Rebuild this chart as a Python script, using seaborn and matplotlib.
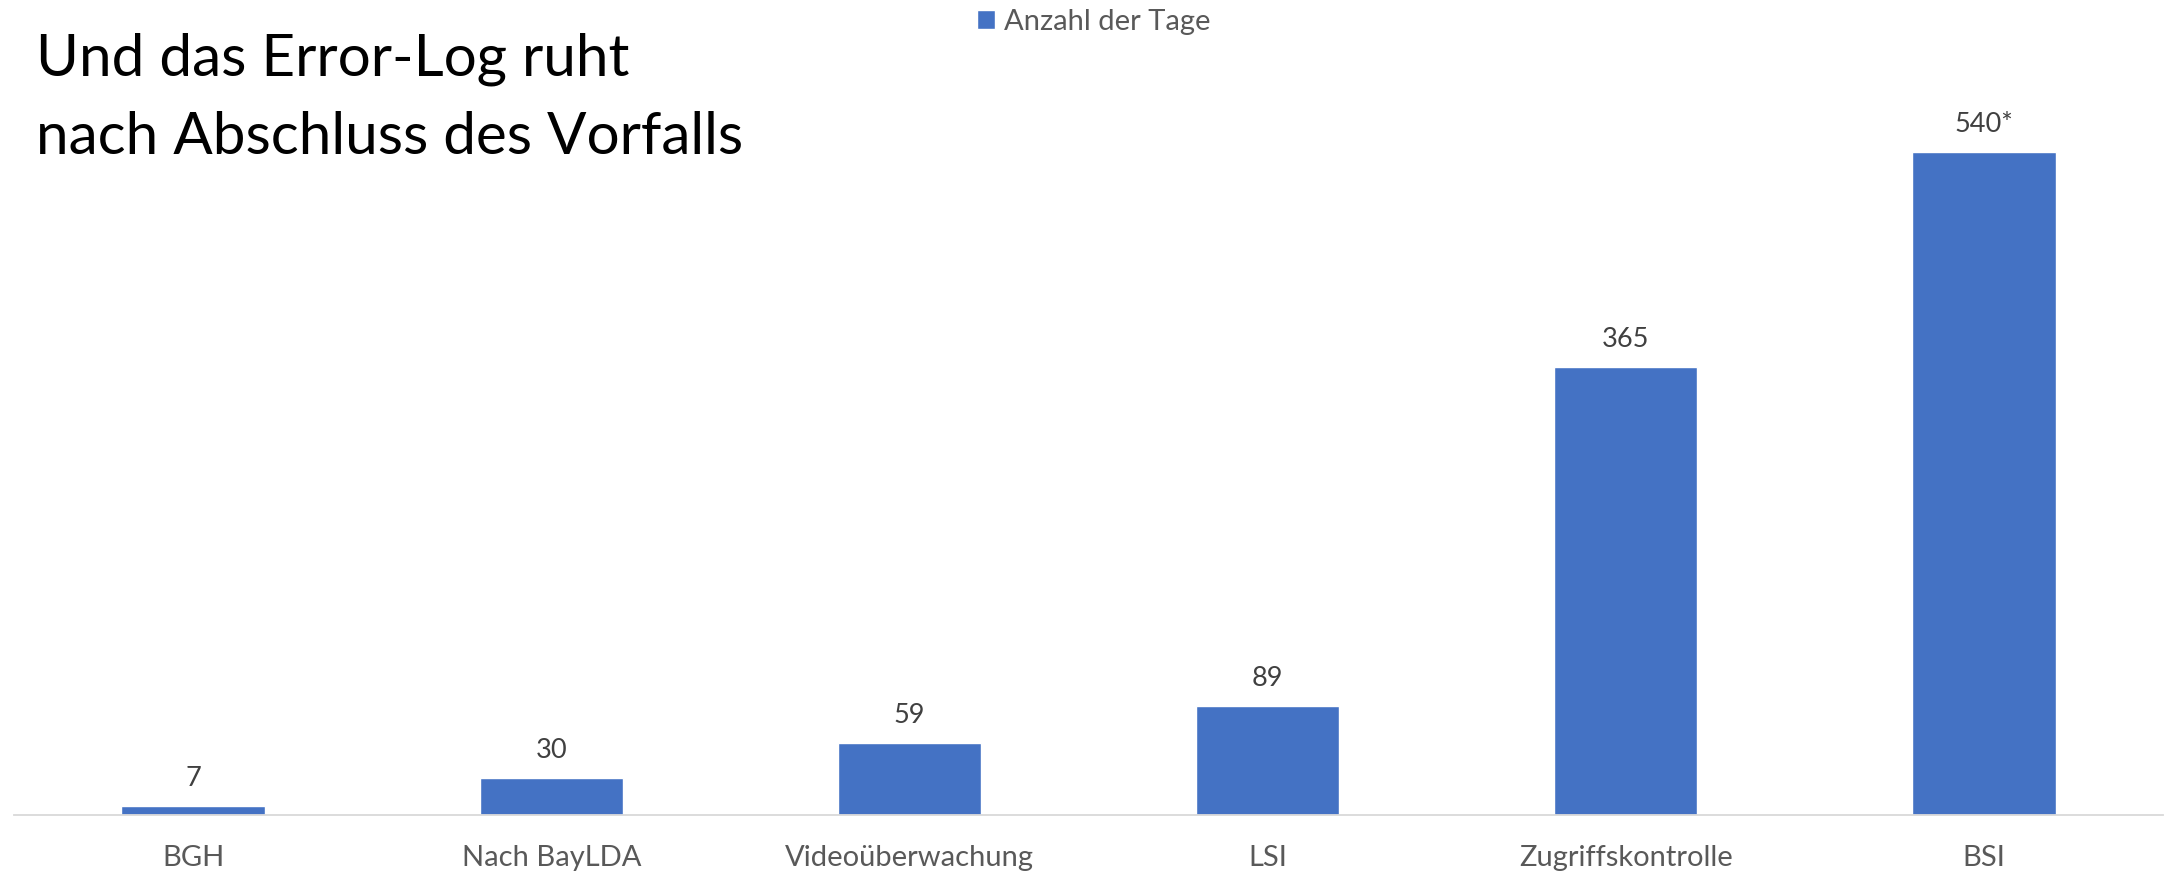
import matplotlib
matplotlib.use("Agg")
import matplotlib.pyplot as plt
import seaborn as sns
import pandas as pd

categories = ["BGH", "Nach BayLDA", "Videoüberwachung", "LSI", "Zugriffskontrolle", "BSI"]
values = [7, 30, 59, 89, 365, 540]
value_labels = ["7", "30", "59", "89", "365", "540*"]
series_name = "Anzahl der Tage"
title_lines = ["Und das Error-Log ruht", "nach Abschluss des Vorfalls"]

sns.set_theme(style="white")
plt.rcParams["font.family"] = ["Lato", "DejaVu Sans"]

W, H = 2165, 872
fig = plt.figure(figsize=(W / 100, H / 100), dpi=100)
ax = fig.add_axes([14 / W, 1 - 815 / H, 2149 / W, 815 / H])

df = pd.DataFrame({"cat": categories, "val": values})
sns.barplot(data=df, x="cat", y="val", color="#4472C4", saturation=1, width=0.4,
            ax=ax, label=series_name)

ax.set_xlim(-0.5, len(categories) - 0.5)
ax.set_ylim(0, 664)
ax.set_xlabel("")
ax.set_ylabel("")
ax.set_yticks([])
for s in ["top", "left", "right"]:
    ax.spines[s].set_visible(False)
ax.spines["bottom"].set_color("#D9D9D9")
ax.spines["bottom"].set_linewidth(1.3)
ax.tick_params(axis="x", length=0, pad=21.5, labelsize=21, labelcolor="#595959")

for p, lab in zip(ax.patches, value_labels):
    ax.annotate(lab, (p.get_x() + p.get_width() / 2, p.get_height()),
                xytext=(0, 14.4), textcoords="offset points", ha="center", va="baseline",
                fontsize=19.5, color="#404040")

if ax.get_legend() is not None:
    ax.get_legend().remove()
handles, labels = ax.get_legend_handles_labels()
fig.legend(handles[:1], labels[:1], loc="center", bbox_to_anchor=(1093.5 / W, 1 - 22 / H),
           frameon=False, fontsize=21, labelcolor="#595959", handlelength=0.62,
           handleheight=0.62, handletextpad=0.31, borderpad=0)

fig.text(36 / W, 1 - 76 / H, title_lines[0], fontsize=42, color="black", ha="left", va="baseline")
fig.text(36 / W, 1 - 154 / H, title_lines[1], fontsize=42, color="black", ha="left", va="baseline")

fig.savefig("out.png", dpi=100, facecolor="white")
